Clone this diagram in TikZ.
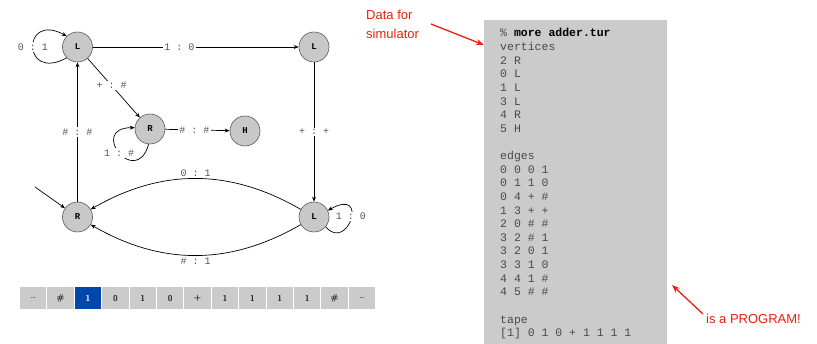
\documentclass[tikz,border=0pt]{standalone}
\usepackage{fontspec}
\setmainfont{Liberation Sans}
\setmonofont{Liberation Mono}
\usetikzlibrary{arrows.meta}
\definecolor{nodegray}{HTML}{C8C8C8}
\definecolor{lblgray}{HTML}{555555}
\definecolor{panelgray}{HTML}{CBCBCB}
\definecolor{codegray}{HTML}{4A4A4A}
\definecolor{tapeblue}{HTML}{0047AB}
\definecolor{annred}{HTML}{E8200C}
\begin{document}
\begin{tikzpicture}[x=1pt,y=-1pt,
  state/.style={circle, draw=black!65, fill=nodegray, minimum size=30pt, inner sep=0pt,
    font=\ttfamily\bfseries\fontsize{9}{9}\selectfont, line width=0.6pt},
  edge/.style={-{Stealth[length=5pt,width=4pt]}, line width=0.7pt},
  lbl/.style={fill=white, inner sep=1.5pt, text=lblgray, font=\ttfamily\fontsize{10}{10}\selectfont},
  lblplain/.style={inner sep=1.5pt, text=lblgray, font=\ttfamily\fontsize{10}{10}\selectfont},
  cell/.style={fill=panelgray, minimum width=26.4pt, minimum height=22pt, inner sep=0pt,
    text=black!85, font=\sffamily\bfseries\fontsize{8.5}{8.5}\selectfont},
  code/.style={anchor=base west, inner sep=0pt, text=codegray, font=\ttfamily\fontsize{11.5}{11.5}\selectfont},
  ann/.style={text=annred, font=\fontsize{13}{13}\selectfont, inner sep=0pt},
  annarrow/.style={draw=annred, line width=1.3pt, -{Stealth[length=8pt,width=6pt]}}
]
\useasboundingbox (0,0) rectangle (817,344);

% ---- state graph ----
\node[state] (L0) at (77.5,47) {L};
\node[state] (L1) at (314,47) {L};
\node[state] (R4) at (150,129) {R};
\node[state] (H)  at (245,131) {H};
\node[state] (R2) at (77.5,217) {R};
\node[state] (L3) at (314,217) {L};
\coordinate (s) at (35,187);

\draw[edge] (L0.225) .. controls +(-45,25) and +(-45,-25) .. node[lbl,pos=0.5]{0 : 1} (L0.135);
\draw[edge] (L0) -- node[lbl,pos=0.42]{1 : 0} (L1);
\draw[edge] (L0) -- node[lbl,pos=0.46]{+ : \#} (R4);
\draw[edge] (R2) -- node[lbl]{\# : \#} (L0);
\draw[edge] (R4) -- node[lbl,pos=0.45]{\# : \#} (H);
\draw[edge] (R4.265) .. controls +(-13,45) and +(-47,0) .. node[lbl,pos=0.5]{1 : \#} (R4.175);
\draw[edge] (L1) -- node[lbl]{+ : +} (L3);
\draw[edge] (L3) to[bend right=30] node[midway,above=0.5pt,lblplain]{0 : 1} (R2);
\draw[edge] (L3) to[bend left=30] node[midway,below=1pt,lblplain]{\# : 1} (R2);
\draw[edge] (L3.320) .. controls +(22,26) and +(42,-24) .. node[lbl,pos=0.5,yshift=3pt]{1 : 0} (L3.25);
\draw[edge] (s) -- (R2);

% ---- tape ----
\foreach \t [count=\i from 0] in {{\fontsize{6}{6}\selectfont\ldots},\#,1,0,1,0,+,1,1,1,1,\#,{\fontsize{6}{6}\selectfont\ldots}}{
  \node[cell] (c\i) at ({33.2+27.4*\i},298.5) {\t};
}
\node[cell, fill=tapeblue, text=white] (c2b) at (c2) {1};

% ---- code panel ----
\fill[panelgray] (484,20) rectangle (667,344);
\node[code] (t0) at (500,37) {\% \textbf{\color{black}more adder.tur}};
\node[code] (t1) at (500,50.62) {vertices};
\node[code] (t2) at (500,64.24) {2 R};
\node[code] (t3) at (500,77.86) {0 L};
\node[code] (t4) at (500,91.48) {1 L};
\node[code] (t5) at (500,105.1) {3 L};
\node[code] (t6) at (500,118.72) {4 R};
\node[code] (t7) at (500,132.34) {5 H};
\node[code] (t9) at (500,159.58) {edges};
\node[code] (t10) at (500,173.2) {0 0 0 1};
\node[code] (t11) at (500,186.82) {0 1 1 0};
\node[code] (t12) at (500,200.44) {0 4 + \#};
\node[code] (t13) at (500,214.06) {1 3 + +};
\node[code] (t14) at (500,227.68) {2 0 \# \#};
\node[code] (t15) at (500,241.3) {3 2 \# 1};
\node[code] (t16) at (500,254.92) {3 2 0 1};
\node[code] (t17) at (500,268.54) {3 3 1 0};
\node[code] (t18) at (500,282.16) {4 4 1 \#};
\node[code] (t19) at (500,295.78) {4 5 \# \#};
\node[code] (t21) at (500,323.02) {tape};
\node[code] (t22) at (500,336.64) {[1] 0 1 0 + 1 1 1 1};

% ---- annotations ----
\node[ann, anchor=west] (a1) at (366,15) {Data for};
\node[ann, anchor=west] (a2) at (366,34) {simulator};
\coordinate (a1s) at (431,24);
\coordinate (a1e) at (484,45);
\draw[annarrow] (a1s) -- (a1e);
\node[ann, anchor=west] (b1) at (706,319) {is a PROGRAM!};
\coordinate (b1s) at (703,314);
\coordinate (b1e) at (672,285);
\draw[annarrow] (b1s) -- (b1e);
\end{tikzpicture}
\end{document}
